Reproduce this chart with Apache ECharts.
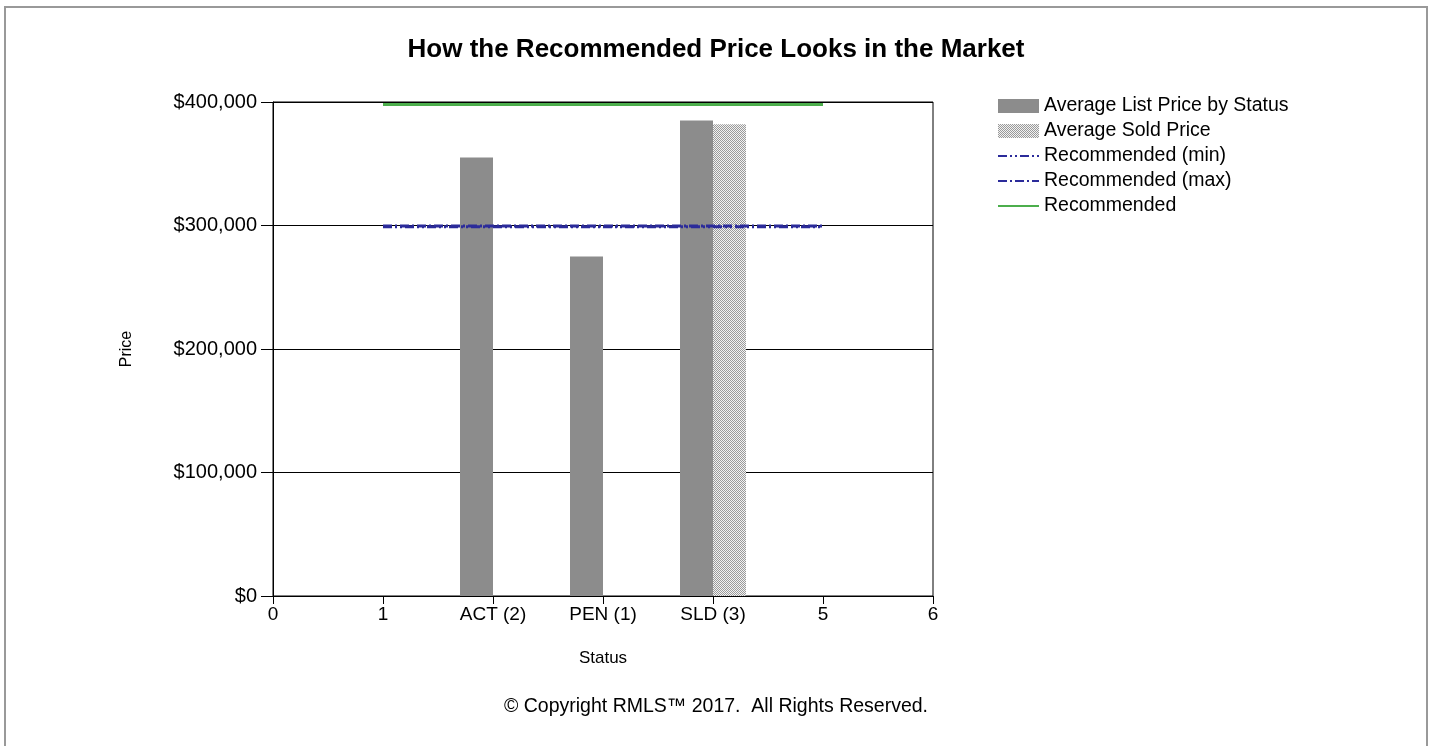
<!DOCTYPE html>
<html>
<head>
<meta charset="utf-8">
<script src="https://cdn.jsdelivr.net/npm/echarts@6/dist/echarts.min.js"></script>
<style>
  html, body { margin: 0; padding: 0; background: #fff; }
  #frame { position: absolute; left: 4px; top: 6px; width: 1420px; height: 780px; border: 2px solid #999; border-bottom: none; }
  #chart { position: absolute; left: 0; top: 0; width: 1432px; height: 746px; }
</style>
</head>
<body>
<div id="frame"></div>
<div id="chart"></div>
<script>
// x positions of status groups on the numeric axis, and their labels
const statusX = [2, 3, 4];
const statusLabels = ['ACT (2)', 'PEN (1)', 'SLD (3)'];
const listPrice = [355000, 275000, 385000];
const soldPrice = [null, null, 382000];

// recommended lines run from x=1 to x=5
const recX = [1, 5];
const recommended = [398000, 398000];
const recMin = [299000, 299000];
const recMax = [299500, 299500];

const yTicks = [0, 100000, 200000, 300000, 400000];

// dotted fill for the sold price bars
const pat = document.createElement('canvas');
pat.width = 2; pat.height = 2;
const pctx = pat.getContext('2d');
pctx.fillStyle = '#f2f2f2'; pctx.fillRect(0, 0, 2, 2);
pctx.fillStyle = '#9a9a9a'; pctx.fillRect(0, 0, 1, 1); pctx.fillRect(1, 1, 1, 1);
const dotted = { image: pat, repeat: 'repeat' };

const chart = echarts.init(document.getElementById('chart'));
const font = 'Liberation Sans, Arial, sans-serif';

const pairs = (xs, ys) => xs.map((x, i) => [x, ys[i]]);
const hideSymbol = { opacity: 0 };

chart.setOption({
  animation: false,
  textStyle: { fontFamily: font, color: '#000' },
  title: {
    text: 'How the Recommended Price Looks in the Market',
    left: 'center', top: 32,
    textStyle: { fontFamily: font, fontSize: 26, fontWeight: 'bold', color: '#000' }
  },
  legend: {
    orient: 'vertical', left: 992, top: 91,
    itemWidth: 41, itemHeight: 14, itemGap: 5,
    textStyle: { fontFamily: font, fontSize: 19.5, lineHeight: 20, color: '#000' },
    lineStyle: { width: 2 },
    data: [
      { name: 'Average List Price by Status', icon: 'rect' },
      { name: 'Average Sold Price', icon: 'rect', itemStyle: { color: dotted } },
      { name: 'Recommended (min)', itemStyle: hideSymbol },
      { name: 'Recommended (max)', itemStyle: hideSymbol },
      { name: 'Recommended', itemStyle: hideSymbol }
    ]
  },
  grid: {
    left: 273, right: 499, top: 102, bottom: 150,
    show: true, borderColor: '#000', borderWidth: 1, backgroundColor: 'transparent'
  },
  xAxis: {
    type: 'value', min: 0, max: 6, interval: 1,
    name: 'Status', nameLocation: 'middle', nameGap: 54,
    nameTextStyle: { fontFamily: font, fontSize: 17, color: '#000' },
    axisLine: { show: true, lineStyle: { color: '#000' } },
    axisTick: { show: true, length: 8, lineStyle: { color: '#000' } },
    splitLine: { show: false },
    axisLabel: {
      fontFamily: font, fontSize: 19, color: '#000', margin: 9,
      formatter: v => { const i = statusX.indexOf(v); return i >= 0 ? statusLabels[i] : String(v); }
    }
  },
  yAxis: {
    type: 'value', min: yTicks[0], max: yTicks[yTicks.length - 1], interval: 100000,
    name: 'Price', nameLocation: 'middle', nameGap: 138, nameRotate: 90,
    nameTextStyle: { fontFamily: font, fontSize: 16, color: '#000' },
    axisLine: { show: true, lineStyle: { color: '#000' } },
    axisTick: { show: true, length: 12, lineStyle: { color: '#000' } },
    splitLine: { show: true, lineStyle: { color: '#000', width: 1 } },
    axisLabel: {
      fontFamily: font, fontSize: 20, color: '#000', margin: 16,
      formatter: v => '$' + v.toLocaleString('en-US')
    }
  },
  series: [
    {
      name: 'Average List Price by Status', type: 'bar',
      data: pairs(statusX, listPrice), barWidth: 33, barGap: '0%',
      itemStyle: { color: '#8c8c8c' }
    },
    {
      name: 'Average Sold Price', type: 'bar',
      data: pairs(statusX, soldPrice), barWidth: 33, barGap: '0%',
      itemStyle: { color: dotted }
    },
    {
      name: 'Recommended (min)', type: 'line', symbol: 'none',
      data: pairs(recX, recMin),
      lineStyle: { color: '#2b2b9a', width: 3, type: [9, 3, 2, 3, 2, 3] }, itemStyle: { color: '#2b2b9a' }
    },
    {
      name: 'Recommended (max)', type: 'line', symbol: 'none',
      data: pairs(recX, recMax),
      lineStyle: { color: '#2b2b9a', width: 3, type: [9, 3, 2, 3] }, itemStyle: { color: '#2b2b9a' }
    },
    {
      name: 'Recommended', type: 'line', symbol: 'none',
      data: pairs(recX, recommended),
      lineStyle: { color: '#4cae4c', width: 3 }, itemStyle: { color: '#4cae4c' }
    }
  ],
  graphic: [{
    type: 'text', left: 'center', top: 697,
    style: { text: '© Copyright RMLS™ 2017.  All Rights Reserved.', font: '19.5px ' + font, fill: '#000' }
  }]
});
</script>
</body>
</html>
